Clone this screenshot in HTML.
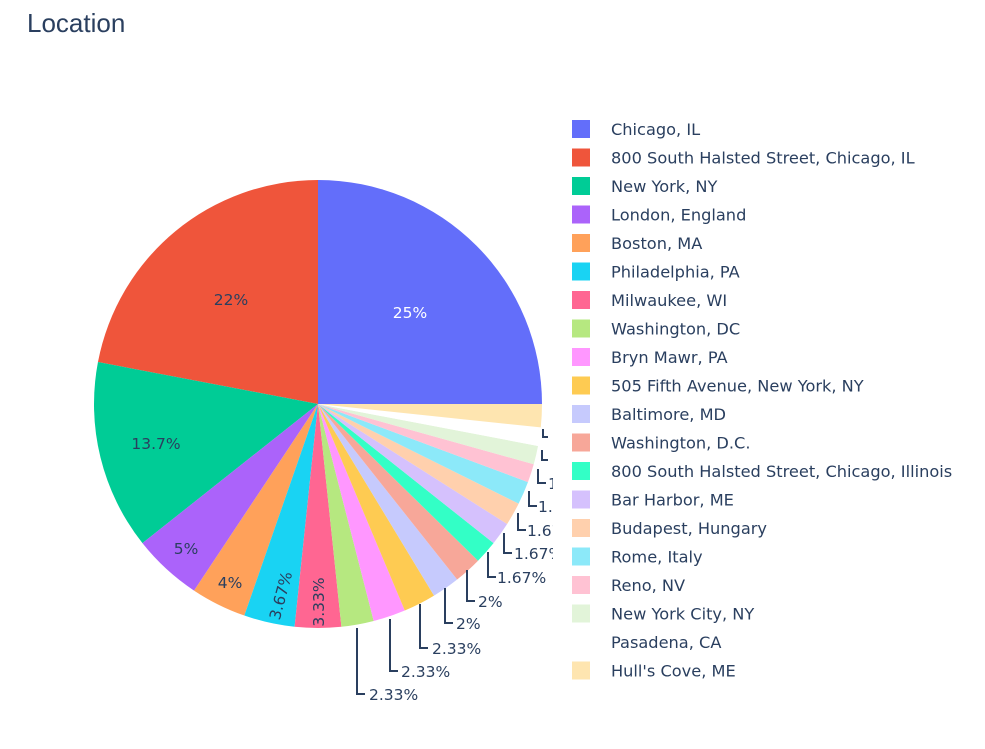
<!DOCTYPE html>
<html><head><meta charset="utf-8"><style>
body{margin:0;background:#fff;}
svg text{font-family:"DejaVu Sans","Liberation Sans",sans-serif;}
</style></head><body>
<svg id="s" width="985" height="744" xmlns="http://www.w3.org/2000/svg">
<text x="27" y="32" font-size="26" fill="#2a3f5f" style="font-family:'Liberation Sans',sans-serif">Location</text>
<g id="pie"></g>
<g id="lines" stroke="#2a3f5f" stroke-width="2" fill="none">
<polyline points="357,628 357,694 365,694"/>
<polyline points="390,619 390,671 398,671"/>
<polyline points="420,604 420,648 428,648"/>
<polyline points="445,588 445,623 453,623"/>
<polyline points="467,570 467,601 475,601"/>
<polyline points="488,552 488,577 496,577"/>
<polyline points="504,533 504,553 512,553"/>
<polyline points="518,513 518,530 526,530"/>
<polyline points="529,491 529,506 537,506"/>
<polyline points="538,469 538,483 546,483"/>
<polyline points="542,450 542,460 548,460"/>
<polyline points="543,429 543,437 548,437"/>
</g>
<g font-size="15.5" fill="#2a3f5f">
<text x="369" y="700">2.33%</text>
<text x="401" y="677">2.33%</text>
<text x="432" y="654">2.33%</text>
<text x="456" y="629">2%</text>
<text x="478" y="607">2%</text>
<text x="497" y="583">1.67%</text>
<text x="514" y="559">1.67%</text>
<text x="527" y="536">1.67%</text>
<text x="538" y="512">1.67%</text>
<text x="548" y="489">1.33%</text>
</g>
<rect x="553" y="100" width="432" height="600" fill="#fff"/>
<g font-size="15.5">
<text x="410" y="318" fill="#fff" text-anchor="middle">25%</text>
<text x="231" y="305" fill="#2a3f5f" text-anchor="middle">22%</text>
<text x="156" y="449" fill="#2a3f5f" text-anchor="middle">13.7%</text>
<text x="186" y="554" fill="#2a3f5f" text-anchor="middle">5%</text>
<text x="230" y="588" fill="#2a3f5f" text-anchor="middle">4%</text>
<text x="0" y="0" fill="#2a3f5f" text-anchor="middle" transform="translate(286,597) rotate(-75)">3.67%</text>
<text x="0" y="0" fill="#2a3f5f" text-anchor="middle" transform="translate(324,602) rotate(-90)">3.33%</text>
</g>
<g id="leg" font-size="16.2" fill="#2a3f5f"></g>
</svg>
<script>
var names=["Chicago, IL","800 South Halsted Street, Chicago, IL","New York, NY","London, England","Boston, MA","Philadelphia, PA","Milwaukee, WI","Washington, DC","Bryn Mawr, PA","505 Fifth Avenue, New York, NY","Baltimore, MD","Washington, D.C.","800 South Halsted Street, Chicago, Illinois","Bar Harbor, ME","Budapest, Hungary","Rome, Italy","Reno, NV","New York City, NY","Pasadena, CA","Hull's Cove, ME"];
var cols=["#636efa","#ef553b","#00cc96","#ab63fa","#ffa15a","#19d3f3","#ff6692","#b6e880","#ff97ff","#fecb52","#c6cafd","#f7a799","#33ffc6","#d5c1fd","#ffd0ad","#8ce9f9","#ffc2d3","#e2f4d9","#ffffff","#fee5b0"];
var v=[75,66,41,15,12,11,10,7,7,7,6,6,5,5,5,5,4,4,4,5];
var tot=v.reduce((a,b)=>a+b,0),cx=318,cy=404,r=224,a=0,h="";
for(var i=0;i<v.length;i++){var a2=a+v[i]/tot*2*Math.PI;
var x1=cx+r*Math.cos(a),y1=cy-r*Math.sin(a),x2=cx+r*Math.cos(a2),y2=cy-r*Math.sin(a2);
h+='<path d="M'+cx+','+cy+'L'+x1+','+y1+'A'+r+','+r+' 0 '+((a2-a)>Math.PI?1:0)+' 0 '+x2+','+y2+'Z" fill="'+cols[i]+'"/>';a=a2;}
document.getElementById("pie").innerHTML=h;
var l="";for(var i=0;i<names.length;i++){var y=129+i*28.5;
l+='<rect x="572" y="'+(y-9)+'" width="18" height="18" fill="'+cols[i]+'"/><text x="611" y="'+(y+6)+'">'+names[i].replace("'","&#39;")+'</text>';}
document.getElementById("leg").innerHTML=l;
</script>
</body></html>
